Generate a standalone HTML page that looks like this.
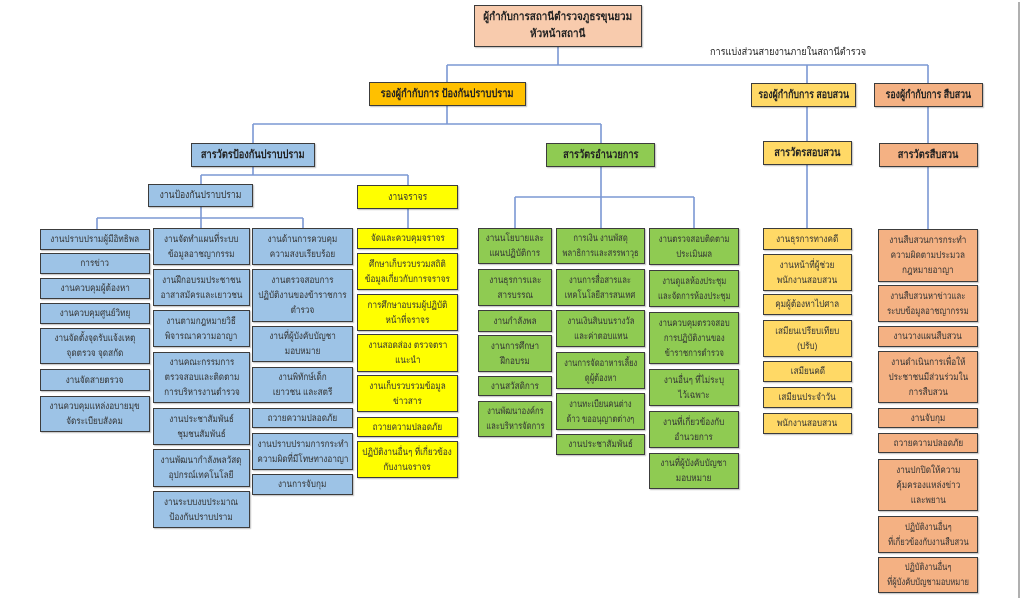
<!DOCTYPE html>
<html>
<head>
<meta charset="utf-8">
<style>
html,body{margin:0;padding:0;background:#fff;}
body{width:1024px;height:598px;position:relative;overflow:hidden;font-family:"Liberation Sans","DejaVu Sans",sans-serif;}
.b{position:absolute;box-sizing:border-box;border:1.5px solid #3c3c3c;display:flex;align-items:center;justify-content:center;text-align:center;font-size:9.5px;line-height:15px;color:#333;box-shadow:1px 1px 1px rgba(0,0,0,0.25);white-space:nowrap;overflow:hidden;}
.b>span{display:inline-block;flex-shrink:0;transform:scaleX(0.86);transform-origin:50% 50%;}
.h{font-weight:bold;font-size:11px;color:#222;}
.h>span{transform:scaleX(0.84);}
.bl{background:#9dc3e6;}
.gr{background:#8fcb52;}
.ye{background:#ffff00;}
.go{background:#ffd966;}
.sa{background:#f4b183;}
.tp{background:#f8cbad;}
.or{background:#ffc000;}
svg{position:absolute;left:0;top:0;}
</style>
</head>
<body>
<svg width="1024" height="598" viewBox="0 0 1024 598">
<g stroke="#7b98d4" stroke-width="1.6" fill="none">
<path d="M558 46V65M447 65H928M447 65V82M807 65V84M928 65V84"/>
<path d="M447 105V124M253 124H601M253 124V143M601 124V143"/>
<path d="M807 107V141M928 107V143"/>
<path d="M253 167V175M201 175H408M201 175V184M408 175V185"/>
<path d="M201 207V228M97 218H303M97 218V229M303 218V228"/>
<path d="M408 209V228"/>
<path d="M601 167V228M515 197H694M515 197V228M694 197V228"/>
<path d="M807 164V228M928 166V229"/>
</g>
<rect x="1018" y="2" width="2" height="596" fill="#b0b0b0"/>
</svg>

<!-- top -->
<div class="b tp h" style="left:474px;top:5px;width:168px;height:42px;line-height:17px;"><span style="transform:scaleX(0.9)">ผู้กำกับการสถานีตำรวจภูธรขุนยวม<br>หัวหน้าสถานี</span></div>
<div style="position:absolute;left:710px;top:45px;font-size:10px;color:#222;white-space:nowrap;transform:scaleX(0.91);transform-origin:0 50%;">การแบ่งส่วนสายงานภายในสถานีตำรวจ</div>

<!-- level 2 -->
<div class="b or h" style="left:369px;top:82px;width:157px;height:24px;"><span>รองผู้กำกับการ ป้องกันปราบปราม</span></div>
<div class="b go h" style="left:751px;top:83px;width:105px;height:24px;"><span style="transform:scaleX(0.8)">รองผู้กำกับการ สอบสวน</span></div>
<div class="b sa h" style="left:874px;top:83px;width:109px;height:24px;"><span style="transform:scaleX(0.8)">รองผู้กำกับการ สืบสวน</span></div>

<!-- level 3 -->
<div class="b bl h" style="left:191px;top:143px;width:124px;height:24px;"><span>สารวัตรป้องกันปราบปราม</span></div>
<div class="b gr h" style="left:546px;top:143px;width:109px;height:24px;"><span>สารวัตรอำนวยการ</span></div>
<div class="b go h" style="left:763px;top:141px;width:89px;height:24px;"><span>สารวัตรสอบสวน</span></div>
<div class="b sa h" style="left:879px;top:143px;width:99px;height:24px;"><span>สารวัตรสืบสวน</span></div>

<div class="b bl" style="left:148px;top:184px;width:105px;height:23px;font-size:10px;"><span>งานป้องกันปราบปราม</span></div>
<div class="b ye" style="left:357px;top:185px;width:101px;height:24px;font-size:10px;"><span>งานจราจร</span></div>

<!-- col1 -->
<div class="b bl" style="left:40px;top:229px;width:110px;height:21px;"><span>งานปราบปรามผู้มีอิทธิพล</span></div>
<div class="b bl" style="left:40px;top:253px;width:110px;height:21px;"><span>การข่าว</span></div>
<div class="b bl" style="left:40px;top:278px;width:110px;height:21px;"><span>งานควบคุมผู้ต้องหา</span></div>
<div class="b bl" style="left:40px;top:303px;width:110px;height:21px;"><span>งานควบคุมศูนย์วิทยุ</span></div>
<div class="b bl" style="left:40px;top:328px;width:110px;height:36px;"><span>งานจัดตั้งจุดรับแจ้งเหตุ<br>จุดตรวจ จุดสกัด</span></div>
<div class="b bl" style="left:40px;top:369px;width:110px;height:22px;"><span>งานจัดสายตรวจ</span></div>
<div class="b bl" style="left:40px;top:396px;width:110px;height:36px;"><span>งานควบคุมแหล่งอบายมุข<br>จัดระเบียบสังคม</span></div>

<!-- col2 -->
<div class="b bl" style="left:153px;top:228px;width:97px;height:37px;"><span>งานจัดทำแผนที่ระบบ<br>ข้อมูลอาชญากรรม</span></div>
<div class="b bl" style="left:153px;top:269px;width:97px;height:37px;"><span>งานฝึกอบรมประชาชน<br>อาสาสมัครและเยาวชน</span></div>
<div class="b bl" style="left:153px;top:310px;width:97px;height:37px;"><span>งานตามกฎหมายวิธี<br>พิจารณาความอาญา</span></div>
<div class="b bl" style="left:153px;top:352px;width:97px;height:51px;"><span>งานคณะกรรมการ<br>ตรวจสอบและติดตาม<br>การบริหารงานตำรวจ</span></div>
<div class="b bl" style="left:153px;top:408px;width:97px;height:37px;"><span>งานประชาสัมพันธ์<br>ชุมชนสัมพันธ์</span></div>
<div class="b bl" style="left:153px;top:449px;width:97px;height:38px;"><span>งานพัฒนากำลังพลวัสดุ<br>อุปกรณ์เทคโนโลยี</span></div>
<div class="b bl" style="left:153px;top:491px;width:97px;height:37px;"><span>งานระบบงบประมาณ<br>ป้องกันปราบปราม</span></div>

<!-- col3 -->
<div class="b bl" style="left:252px;top:228px;width:101px;height:37px;"><span>งานด้านการควบคุม<br>ความสงบเรียบร้อย</span></div>
<div class="b bl" style="left:252px;top:269px;width:101px;height:53px;"><span>งานตรวจสอบการ<br>ปฏิบัติงานของข้าราชการ<br>ตำรวจ</span></div>
<div class="b bl" style="left:252px;top:326px;width:101px;height:36px;"><span>งานที่ผู้บังคับบัญชา<br>มอบหมาย</span></div>
<div class="b bl" style="left:252px;top:367px;width:101px;height:36px;"><span>งานพิทักษ์เด็ก<br>เยาวชน และสตรี</span></div>
<div class="b bl" style="left:252px;top:408px;width:101px;height:20px;"><span>ถวายความปลอดภัย</span></div>
<div class="b bl" style="left:252px;top:433px;width:101px;height:37px;"><span>งานปราบปรามการกระทำ<br>ความผิดที่มีโทษทางอาญา</span></div>
<div class="b bl" style="left:252px;top:474px;width:101px;height:21px;"><span>งานการจับกุม</span></div>

<!-- yellow -->
<div class="b ye" style="left:357px;top:228px;width:101px;height:21px;"><span>จัดและควบคุมจราจร</span></div>
<div class="b ye" style="left:357px;top:253px;width:101px;height:37px;"><span>ศึกษาเก็บรวบรวมสถิติ<br>ข้อมูลเกี่ยวกับการจราจร</span></div>
<div class="b ye" style="left:357px;top:294px;width:101px;height:37px;"><span>การศึกษาอบรมผู้ปฏิบัติ<br>หน้าที่จราจร</span></div>
<div class="b ye" style="left:357px;top:334px;width:101px;height:38px;"><span>งานสอดส่อง ตรวจตรา<br>แนะนำ</span></div>
<div class="b ye" style="left:357px;top:375px;width:101px;height:37px;"><span>งานเก็บรวบรวมข้อมูล<br>ข่าวสาร</span></div>
<div class="b ye" style="left:357px;top:417px;width:101px;height:20px;"><span>ถวายความปลอดภัย</span></div>
<div class="b ye" style="left:357px;top:441px;width:101px;height:37px;"><span>ปฏิบัติงานอื่นๆ ที่เกี่ยวข้อง<br>กับงานจราจร</span></div>

<!-- green col1 -->
<div class="b gr" style="left:478px;top:228px;width:74px;height:36px;"><span>งานนโยบายและ<br>แผนปฏิบัติการ</span></div>
<div class="b gr" style="left:478px;top:269px;width:74px;height:37px;"><span>งานธุรการและ<br>สารบรรณ</span></div>
<div class="b gr" style="left:478px;top:310px;width:74px;height:22px;"><span>งานกำลังพล</span></div>
<div class="b gr" style="left:478px;top:335px;width:74px;height:37px;"><span>งานการศึกษา<br>ฝึกอบรม</span></div>
<div class="b gr" style="left:478px;top:376px;width:74px;height:20px;"><span>งานสวัสดิการ</span></div>
<div class="b gr" style="left:478px;top:401px;width:74px;height:36px;"><span style="transform:scaleX(0.8)">งานพัฒนาองค์กร<br>และบริหารจัดการ</span></div>

<!-- green col2 -->
<div class="b gr" style="left:556px;top:228px;width:89px;height:36px;"><span style="transform:scaleX(0.8)">การเงิน งานพัสดุ<br>พลาธิการและสรรพาวุธ</span></div>
<div class="b gr" style="left:556px;top:269px;width:89px;height:37px;"><span style="transform:scaleX(0.8)">งานการสื่อสารและ<br>เทคโนโลยีสารสนเทศ</span></div>
<div class="b gr" style="left:556px;top:310px;width:89px;height:37px;"><span style="transform:scaleX(0.82)">งานเงินสินบนรางวัล<br>และค่าตอบแทน</span></div>
<div class="b gr" style="left:556px;top:352px;width:89px;height:37px;"><span style="transform:scaleX(0.8)">งานการจัดอาหารเลี้ยง<br>ดูผู้ต้องหา</span></div>
<div class="b gr" style="left:556px;top:393px;width:89px;height:37px;"><span style="transform:scaleX(0.8)">งานทะเบียนคนต่าง<br>ด้าว ขออนุญาตต่างๆ</span></div>
<div class="b gr" style="left:556px;top:434px;width:89px;height:21px;"><span>งานประชาสัมพันธ์</span></div>

<!-- green col3 -->
<div class="b gr" style="left:649px;top:228px;width:90px;height:37px;"><span style="transform:scaleX(0.82)">งานตรวจสอบติดตาม<br>ประเมินผล</span></div>
<div class="b gr" style="left:649px;top:270px;width:90px;height:37px;"><span style="transform:scaleX(0.8)">งานดูแลห้องประชุม<br>และจัดการห้องประชุม</span></div>
<div class="b gr" style="left:649px;top:312px;width:90px;height:52px;"><span style="transform:scaleX(0.82)">งานควบคุมตรวจสอบ<br>การปฏิบัติงานของ<br>ข้าราชการตำรวจ</span></div>
<div class="b gr" style="left:649px;top:369px;width:90px;height:37px;"><span>งานอื่นๆ ที่ไม่ระบุ<br>ไว้เฉพาะ</span></div>
<div class="b gr" style="left:649px;top:411px;width:90px;height:37px;"><span>งานที่เกี่ยวข้องกับ<br>อำนวยการ</span></div>
<div class="b gr" style="left:649px;top:453px;width:90px;height:36px;"><span>งานที่ผู้บังคับบัญชา<br>มอบหมาย</span></div>

<!-- gold -->
<div class="b go" style="left:763px;top:228px;width:89px;height:22px;"><span>งานธุรการทางคดี</span></div>
<div class="b go" style="left:763px;top:254px;width:89px;height:37px;"><span>งานหน้าที่ผู้ช่วย<br>พนักงานสอบสวน</span></div>
<div class="b go" style="left:763px;top:294px;width:89px;height:21px;"><span>คุมผู้ต้องหาไปศาล</span></div>
<div class="b go" style="left:763px;top:320px;width:89px;height:37px;"><span>เสมียนเปรียบเทียบ<br>(ปรับ)</span></div>
<div class="b go" style="left:763px;top:361px;width:89px;height:21px;"><span>เสมียนคดี</span></div>
<div class="b go" style="left:763px;top:387px;width:89px;height:21px;"><span>เสมียนประจำวัน</span></div>
<div class="b go" style="left:763px;top:413px;width:89px;height:21px;"><span>พนักงานสอบสวน</span></div>

<!-- salmon -->
<div class="b sa" style="left:878px;top:229px;width:100px;height:53px;"><span>งานสืบสวนการกระทำ<br>ความผิดตามประมวล<br>กฎหมายอาญา</span></div>
<div class="b sa" style="left:878px;top:285px;width:100px;height:37px;"><span style="transform:scaleX(0.82)">งานสืบสวนหาข่าวและ<br>ระบบข้อมูลอาชญากรรม</span></div>
<div class="b sa" style="left:878px;top:326px;width:100px;height:21px;"><span>งานวางแผนสืบสวน</span></div>
<div class="b sa" style="left:878px;top:351px;width:100px;height:52px;"><span>งานดำเนินการเพื่อให้<br>ประชาชนมีส่วนร่วมใน<br>การสืบสวน</span></div>
<div class="b sa" style="left:878px;top:408px;width:100px;height:20px;"><span>งานจับกุม</span></div>
<div class="b sa" style="left:878px;top:433px;width:100px;height:20px;"><span>ถวายความปลอดภัย</span></div>
<div class="b sa" style="left:878px;top:459px;width:100px;height:52px;"><span>งานปกปิดให้ความ<br>คุ้มครองแหล่งข่าว<br>และพยาน</span></div>
<div class="b sa" style="left:878px;top:516px;width:100px;height:37px;"><span style="transform:scaleX(0.8)">ปฏิบัติงานอื่นๆ<br>ที่เกี่ยวข้องกับงานสืบสวน</span></div>
<div class="b sa" style="left:878px;top:557px;width:100px;height:36px;"><span style="transform:scaleX(0.8)">ปฏิบัติงานอื่นๆ<br>ที่ผู้บังคับบัญชามอบหมาย</span></div>
</body>
</html>
